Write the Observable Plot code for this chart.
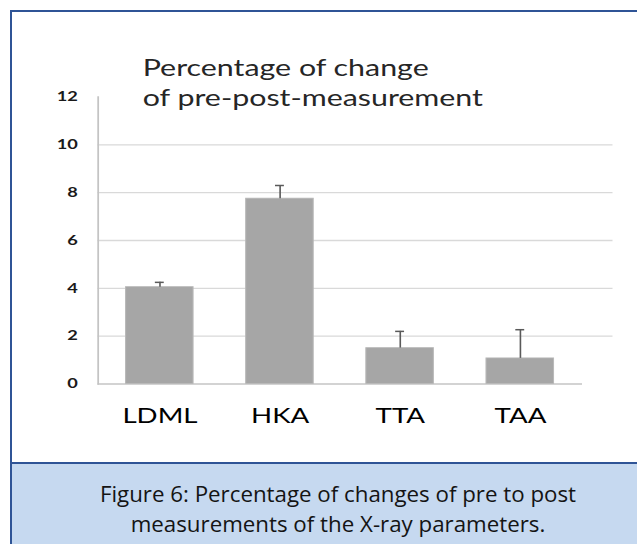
<!DOCTYPE html>
<html><head><meta charset="utf-8">
<script src="https://cdn.jsdelivr.net/npm/d3@7"></script>
<script src="https://cdn.jsdelivr.net/npm/@observablehq/plot@0.6"></script>
<style>
html,body{margin:0;padding:0;width:637px;height:544px;overflow:hidden;background:#fff;}
#frame{position:absolute;left:10px;top:10px;width:700px;height:600px;border:2px solid #2f5496;box-sizing:border-box;}
#chart{position:absolute;left:0;top:0;width:637px;height:463px;z-index:2;}
#chart svg{display:block;}
#caption{position:absolute;left:12px;top:462px;width:700px;height:100px;border-top:2px solid #2f5496;background:#c6d9f0;z-index:1;}
#captext{position:absolute;left:0;top:15px;width:652px;text-align:center;font-family:"Open Sans",sans-serif;font-size:22.3px;line-height:30px;color:#141414;}
</style>
</head><body>
<div id="frame"></div>
<div id="caption"><div id="captext"></div></div>
<div id="chart"></div>
<script>
const categories = ["LDML", "HKA", "TTA", "TAA"];
const values = [4.05, 7.75, 1.5, 1.07];
const errors = [0.2, 0.55, 0.7, 1.2];
const yTicks = [0, 2, 4, 6, 8, 10, 12];
const gridTicks = [2, 4, 6, 8, 10];
const titleLines = ["Percentage of change", "of pre-post-measurement"];
const captionLines = ["Figure 6: Percentage of changes of pre to post", "measurements of the X-ray parameters."];

const data = categories.map((c, i) => ({cat: c, value: values[i], err: errors[i]}));

const S = 1.35;            // horizontal stretch of the original picture
const W = 637, H = 463;
const W0 = W / S;

const plot = Plot.plot({
  width: W0,
  height: H,
  marginLeft: 97.5 / S,
  marginRight: W0 - 582 / S,
  marginTop: 96.5,
  marginBottom: 79.5,
  style: {background: "transparent", fontFamily: "Lato, sans-serif", overflow: "visible"},
  x: {domain: categories, paddingInner: 0.44, paddingOuter: 0.22, label: null},
  y: {domain: [0, 12], label: null},
  marks: [
    Plot.ruleY(gridTicks, {stroke: "#d9d9d9", strokeWidth: 1.3, insetRight: -(612.5 - 582) / S}),
    Plot.frame({anchor: "left", stroke: "#c4c4c4", strokeWidth: 1.3}),
    Plot.ruleY([0], {stroke: "#c4c4c4", strokeWidth: 1.5}),
    Plot.barY(data, {x: "cat", y: "value", fill: "#a6a6a6", stroke: "#b9b9b9", strokeWidth: 0.8}),
    Plot.ruleX(data, {x: "cat", y1: "value", y2: d => d.value + d.err, stroke: "#5a5a5a", strokeWidth: 1.2}),
    Plot.tickY(data, {x: "cat", y: d => d.value + d.err, stroke: "#5a5a5a", strokeWidth: 1.5, inset: 21.7}),
    Plot.axisY({ticks: yTicks, tickSize: 0, tickPadding: 15, fill: "#1a1a1a", fontSize: 13.5, fontWeight: "bold", label: null}),
    Plot.axisX({tickSize: 0, tickPadding: 24, fill: "#000", fontSize: 20.5, label: null}),
    Plot.text([titleLines.join("\n")], {
      frameAnchor: "top-left", dx: (142 - 97.5) / S, dy: -42.5,
      lineAnchor: "top", textAnchor: "start", fontSize: 22.5, lineHeight: 1.333, fill: "#262626"
    })
  ]
});

plot.setAttribute("width", W);
plot.setAttribute("height", H);
plot.setAttribute("viewBox", `0 0 ${W0} ${H}`);
plot.setAttribute("preserveAspectRatio", "none");
plot.style.width = W + "px";
plot.style.maxWidth = "none";
document.getElementById("chart").appendChild(plot);

const cap = document.getElementById("captext");
captionLines.forEach(t => { const d = document.createElement("div"); d.textContent = t; cap.appendChild(d); });
</script>
</body></html>
